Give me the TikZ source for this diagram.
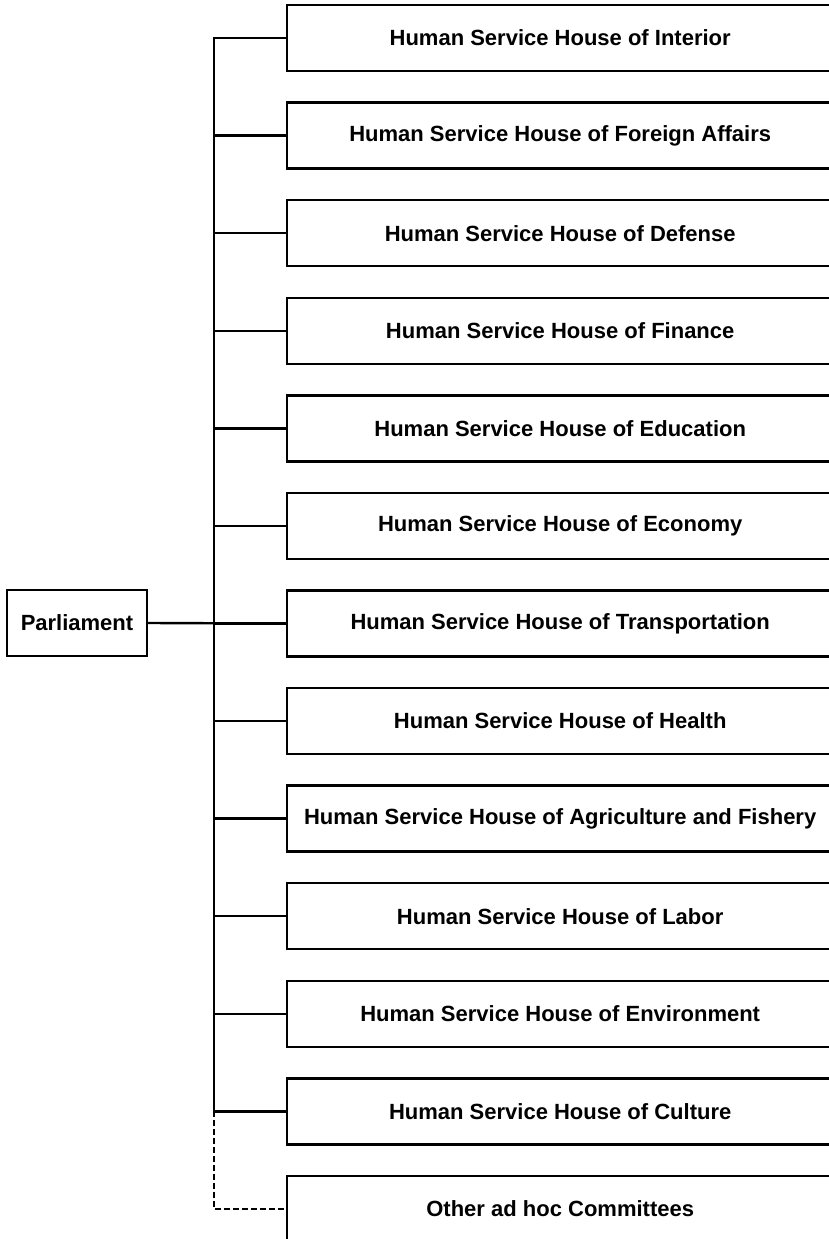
\documentclass[tikz,border=0pt]{standalone}
\usepackage{fontspec}
\setmainfont{Liberation Sans}
\begin{document}
\begin{tikzpicture}[x=1pt, y=-1pt, line width=2.4pt,
  unitbox/.style={draw, inner sep=0pt, minimum height=66pt,
    font=\bfseries\fontsize{22}{25}\selectfont},
  house/.style={unitbox, minimum width=546pt, anchor=west},
  link/.style={line width=2.4pt},
  adhoc/.style={link, dash pattern=on 6pt off 3pt}]
\useasboundingbox (0,0) rectangle (829,1239);

% the chamber on the left
\node[unitbox, minimum width=140pt] (parl) at (77,623) {Parliament};

% the committees, one below another
\foreach \name [count=\i] in {
  Human Service House of Interior,
  Human Service House of Foreign Affairs,
  Human Service House of Defense,
  Human Service House of Finance,
  Human Service House of Education,
  Human Service House of Economy,
  Human Service House of Transportation,
  Human Service House of Health,
  Human Service House of Agriculture and Fishery,
  Human Service House of Labor,
  Human Service House of Environment,
  Human Service House of Culture,
  Other ad hoc Committees}
  \node[house] (h\i) at (286, 38 + 97.58*\i - 97.58) {\name};

% vertical trunk
\coordinate (trunk) at (214,623);
\draw[link] (h1.west) -- (h1.west -| trunk) -- (h12.west -| trunk);
\foreach \i in {2,...,12}
  \draw[link] (h\i.west -| trunk) -- (h\i.west);
\draw[link] (parl.east) -- (h7.west);

% optional committees
\draw[adhoc] (h12.west -| trunk) |- (h13.west);
\end{tikzpicture}
\end{document}
